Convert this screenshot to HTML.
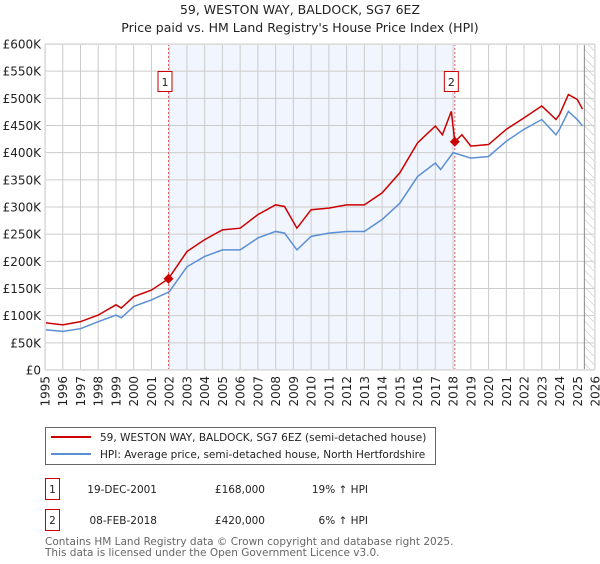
<!DOCTYPE html>
<html><head><meta charset="utf-8"><style>
body{margin:0;background:#fff;font-family:"DejaVu Sans","Liberation Sans",sans-serif;}
svg text{font-family:"DejaVu Sans","Liberation Sans",sans-serif;}
</style></head><body>
<svg id="c" width="600" height="560" xmlns="http://www.w3.org/2000/svg">
<defs><pattern id="hatch" width="6" height="6" patternUnits="userSpaceOnUse" patternTransform="rotate(-45)"><line x1="0" y1="0" x2="0" y2="6" stroke="#bbb" stroke-width="1"/></pattern></defs>
<text x="300" y="14" text-anchor="middle" font-size="12.5" fill="#222">59, WESTON WAY, BALDOCK, SG7 6EZ</text>
<text x="300" y="32" text-anchor="middle" font-size="12.5" fill="#222">Price paid vs. HM Land Registry's House Price Index (HPI)</text>
<g id="plot"></g>
<g>
<rect x="45.5" y="427.5" width="390" height="37" fill="#fff" stroke="#666"/>
<line x1="51" y1="437" x2="91" y2="437" stroke="#cc0000" stroke-width="2"/>
<text x="100" y="441" font-size="10.5" fill="#222">59, WESTON WAY, BALDOCK, SG7 6EZ (semi-detached house)</text>
<line x1="51" y1="454" x2="91" y2="454" stroke="#5b8fd4" stroke-width="2"/>
<text x="100" y="458" font-size="10.5" fill="#222">HPI: Average price, semi-detached house, North Hertfordshire</text>
</g>
<g font-size="10.5" fill="#222">
<rect x="45.5" y="478.5" width="14" height="21" fill="#fff" stroke="#cc0000"/>
<text x="52.5" y="493" text-anchor="middle">1</text>
<text x="157" y="493" text-anchor="end">19-DEC-2001</text>
<text x="265" y="493" text-anchor="end">£168,000</text>
<text x="368" y="493" text-anchor="end">19% ↑ HPI</text>
<rect x="45.5" y="509.5" width="14" height="21" fill="#fff" stroke="#cc0000"/>
<text x="52.5" y="524" text-anchor="middle">2</text>
<text x="157" y="524" text-anchor="end">08-FEB-2018</text>
<text x="265" y="524" text-anchor="end">£420,000</text>
<text x="368" y="524" text-anchor="end">6% ↑ HPI</text>
</g>
<text x="45" y="545" font-size="10.5" fill="#666">Contains HM Land Registry data © Crown copyright and database right 2025.</text>
<text x="45" y="556" font-size="10.5" fill="#666">This data is licensed under the Open Government Licence v3.0.</text>
</svg>
<script>
const hpiYears=[1995,1996,1997,1998,1999,1999.3,2000,2001,2002,2003,2004,2005,2006,2007,2008,2008.5,2009.2,2010,2011,2012,2013,2014,2015,2016,2017,2017.3,2018,2019,2020,2021,2022,2023,2023.8,2024,2024.5,2025,2025.3];
const hpiValues=[74,71,76,89,101,96,117,129,144,190,209,221,221,243,255,252,221,246,252,255,255,277,307,356,381,369,400,390,393,421,443,461,433,443,476,461,449];
const redYears=[1995,1996,1997,1998,1999,1999.3,2000,2001,2001.96,2003,2004,2005,2006,2007,2008,2008.5,2009.2,2010,2011,2012,2013,2014,2015,2016,2017,2017.4,2017.9,2018.1,2018.5,2019,2020,2021,2022,2023,2023.8,2024,2024.5,2025,2025.3];
const redValues=[87,83,89,101,120,114,135,147,168,218,240,258,261,286,304,301,261,295,298,304,304,326,363,418,449,433,476,420,433,412,415,443,464,486,461,470,507,498,480];
const saleYears=[2001.96,2018.1];
const saleValues=[168,420];
const saleLabels=["1","2"];
const yTicks=[0,50,100,150,200,250,300,350,400,450,500,550,600];
const yTickLabels=["£0","£50K","£100K","£150K","£200K","£250K","£300K","£350K","£400K","£450K","£500K","£550K","£600K"];
const xTicks=[1995,1996,1997,1998,1999,2000,2001,2002,2003,2004,2005,2006,2007,2008,2009,2010,2011,2012,2013,2014,2015,2016,2017,2018,2019,2020,2021,2022,2023,2024,2025,2026];
const X0=45,X1=595,Y0=370,Y1=44;
const xs=y=>X0+(y-1995)/(2026-1995)*(X1-X0);
const ys=v=>Y0-v/600*(Y0-Y1);
const NS="http://www.w3.org/2000/svg";
const g=document.getElementById('plot');
function mk(t,a){const e=document.createElementNS(NS,t);for(const k in a)e.setAttribute(k,a[k]);g.appendChild(e);return e;}
let e;
e=mk('rect',{x:xs(saleYears[0]),y:Y1,width:xs(saleYears[1])-xs(saleYears[0]),height:Y0-Y1,fill:'#eef3fc',opacity:0.8});


e=mk('rect',{x:xs(2025.4),y:Y1,width:X1-xs(2025.4),height:Y0-Y1,fill:'url(#hatch)'});


yTicks.forEach((v,i)=>{
 e=mk('line',{x1:X0,x2:X1,y1:ys(v),y2:ys(v),stroke:'#cccccc','stroke-width':1});
 
 
 e=mk('text',{x:X0-4,y:ys(v)+4.5,'text-anchor':'end','font-size':'12',fill:'#222'});
 e.textContent=yTickLabels[i];
 
 
});
xTicks.forEach(y=>{
 e=mk('line',{x1:xs(y),x2:xs(y),y1:Y1,y2:Y0,stroke:'#cccccc','stroke-width':1});
 
 
 e=mk('text',{x:0,y:0,'text-anchor':'end','font-size':'12',fill:'#222',transform:`translate(${xs(y)+4.5},${Y0+6}) rotate(-90)`});
 e.textContent=y;
 
 
});
e=mk('line',{x1:xs(2025.4),x2:xs(2025.4),y1:Y1,y2:Y0,stroke:'#888','stroke-width':1});


saleYears.forEach((y,i)=>{
 e=mk('line',{x1:xs(y),x2:xs(y),y1:Y1,y2:Y0,stroke:'#e06060','stroke-width':1,'stroke-dasharray':'2,2'});
 
 
 e=mk('rect',{x:xs(y)-10.5,y:71.5,width:14,height:20,fill:'#fff',stroke:'#cc0000'});
 
 
 e=mk('text',{x:xs(y)-3.5,y:86,'text-anchor':'middle','font-size':'11',fill:'#222'});
 e.textContent=saleLabels[i];
 
 
});
e=mk('polyline',{points:hpiYears.map((y,i)=>xs(y)+','+ys(hpiValues[i])).join(' '),fill:'none',stroke:'#5b8fd4','stroke-width':1.5});


e=mk('polyline',{points:redYears.map((y,i)=>xs(y)+','+ys(redValues[i])).join(' '),fill:'none',stroke:'#cc0000','stroke-width':1.5});


saleYears.forEach((y,i)=>{
 const cx=xs(y),cy=ys(saleValues[i]);
 e=mk('polygon',{points:`${cx},${cy-5} ${cx+5},${cy} ${cx},${cy+5} ${cx-5},${cy}`,fill:'#cc0000'});
 
 
});
e=mk('rect',{x:X0+0.5,y:Y1+0.5,width:X1-X0-1,height:Y0-Y1-1,fill:'none',stroke:'#ddd'});


</script>
</body></html>
